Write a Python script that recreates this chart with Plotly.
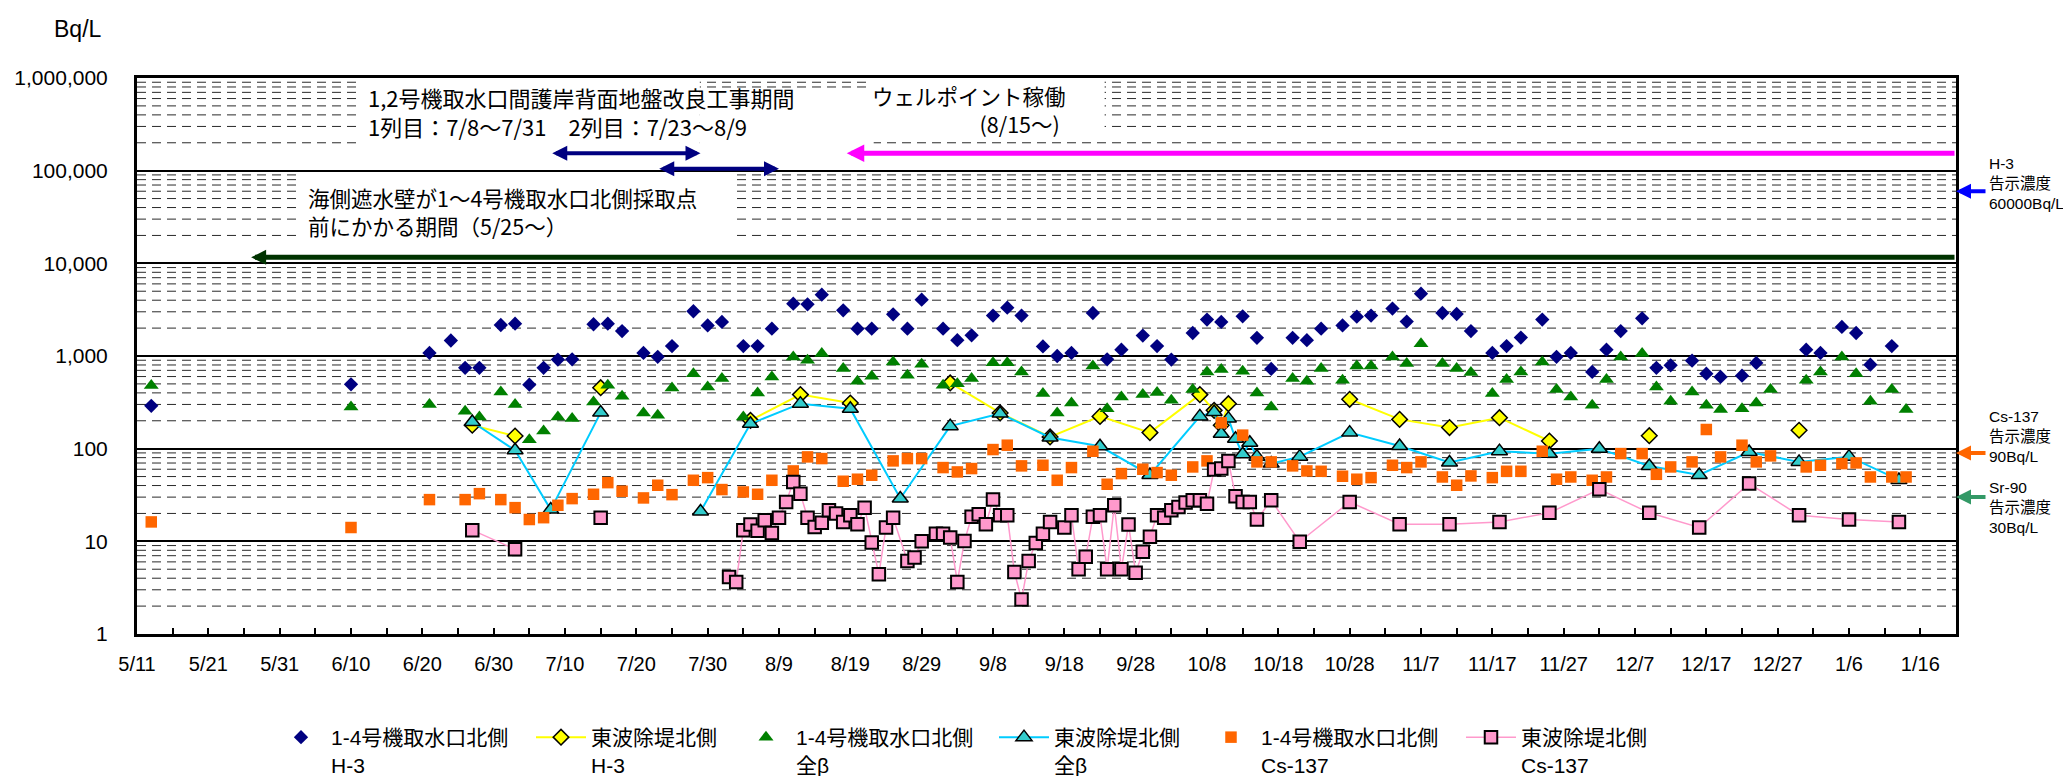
import numpy as np
import plotly.graph_objects as go


def iso(md):
    m, d = (int(s) for s in md.split("/"))
    year = 2014 if m < 5 else 2013
    return f"{year}-{m:02d}-{d:02d}"


# ---------------- data ----------------
# 1-4号機取水口北側 H-3
north_h3_dates = ["5/13", "6/10", "6/21", "6/24", "6/26", "6/28",
                  "7/1", "7/3", "7/5", "7/7", "7/9", "7/11", "7/14", "7/16", "7/18", "7/21", "7/23", "7/25", "7/28", "7/30",
                  "8/1", "8/4", "8/6", "8/8", "8/11", "8/13", "8/15", "8/18", "8/20", "8/22", "8/25", "8/27", "8/29",
                  "9/1", "9/3", "9/5", "9/8", "9/10", "9/12", "9/15", "9/17", "9/19", "9/22", "9/24", "9/26", "9/29",
                  "10/1", "10/3", "10/6", "10/8", "10/10", "10/13", "10/15", "10/17", "10/20", "10/22", "10/24", "10/27", "10/29", "10/31",
                  "11/3", "11/5", "11/7", "11/10", "11/12", "11/14", "11/17", "11/19", "11/21", "11/24", "11/26", "11/28",
                  "12/1", "12/3", "12/5", "12/8", "12/10", "12/12", "12/15", "12/17", "12/19", "12/22", "12/24", "12/31",
                  "1/2", "1/5", "1/7", "1/9", "1/12"]
north_h3_vals = [290, 495, 1080, 1470, 745, 745,
                 2160, 2230, 490, 745, 915, 920, 2200, 2230, 1860, 1080, 980, 1280, 3040, 2140,
                 2330, 1280, 1280, 1970, 3670, 3610, 4590, 3110, 1970, 1970, 2820, 1970, 4050,
                 1970, 1480, 1670, 2730, 3320, 2730, 1270, 1000, 1080, 2910, 920, 1170, 1660,
                 1280, 915, 1770, 2470, 2330, 2680, 1570, 725, 1570, 1480, 1970, 2140, 2660, 2730,
                 3250, 2350, 4710, 2910, 2840, 1860, 1080, 1280, 1580, 2470, 980, 1080,
                 673, 1170, 1860, 2550, 745, 794, 890, 645, 594, 614, 841, 1170,
                 1080, 2060, 1770, 807, 1280]

# 1-4号機取水口北側 全β / Cs-137 (same sampling dates)
north_dates = ["5/13", "6/10", "6/21", "6/26", "6/28",
               "7/1", "7/3", "7/5", "7/7", "7/9", "7/11", "7/14", "7/16", "7/18", "7/21", "7/23", "7/25", "7/28", "7/30",
               "8/1", "8/4", "8/6", "8/8", "8/11", "8/13", "8/15", "8/18", "8/20", "8/22", "8/25", "8/27", "8/29",
               "9/1", "9/3", "9/5", "9/8", "9/10", "9/12", "9/15", "9/17", "9/19", "9/22", "9/24", "9/26", "9/29",
               "10/1", "10/3", "10/6", "10/8", "10/10", "10/13", "10/15", "10/17", "10/20", "10/22", "10/24", "10/27", "10/29", "10/31",
               "11/3", "11/5", "11/7", "11/10", "11/12", "11/14", "11/17", "11/19", "11/21", "11/24", "11/26", "11/28",
               "12/1", "12/3", "12/5", "12/8", "12/10", "12/12", "12/15", "12/17", "12/19", "12/22", "12/24", "12/26", "12/31",
               "1/2", "1/5", "1/7", "1/9", "1/12", "1/14"]
north_beta_vals = [480, 282, 299, 253, 220,
                   410, 299, 125, 155, 220, 211, 319, 483, 367, 243, 229, 452, 645, 463,
                   570, 220, 399, 594, 977, 899, 1062, 731, 534, 604, 863, 619, 814,
                   483, 503, 570, 848, 848, 673, 393, 243, 311, 781, 270, 361, 383,
                   403, 333, 434, 673, 713, 684, 399, 282, 570, 534, 731, 547, 781, 781,
                   977, 828, 1360, 828, 731, 662, 393, 556, 673, 863, 434, 361,
                   294, 556, 977, 1062, 463, 324, 410, 294, 264, 270, 311, 434, 547,
                   673, 977, 645, 324, 434, 264]
north_cs_vals = [16.2, 14.1, 28.2, 28.2, 32.7,
                 28.2, 23.1, 17.2, 18.0, 24.5, 28.9, 32.2, 43, 34.7, 29.4, 40.3, 31.9, 45.6, 48.7,
                 36.2, 34.1, 32.2, 45.6, 57.5, 81.5, 78.2, 44.5, 46.8, 51.7, 73.8, 78.2, 78.2,
                 62.5, 56.1, 61.0, 97.8, 109, 65.2, 66.2, 45.6, 62.5, 93.8, 41.3, 53.8, 60,
                 55.2, 51.7, 63.5, 73.8, 190, 140, 72, 72, 65.2, 57.5, 57, 50.4, 46.8, 48.7,
                 66.2, 62.5, 72, 49.5, 40.3, 50.8, 48.7, 57, 57, 93.8, 46.8, 49.5,
                 45.6, 49.5, 88.5, 88.5, 52.9, 63.5, 72, 161, 81.5, 109, 72, 83.6, 63.5,
                 66.2, 69, 70.2, 49.5, 49.5, 49.5]

# 東波除堤北側 H-3 (None = no sample, line break)
east_h3_dates = ["6/27", "7/3", "7/8", "7/15", "7/25", "8/5", "8/12", "8/19", "8/26", "9/2", "9/9", "9/16", "9/23",
                 "9/30", "10/7", "10/9", "10/10", "10/11", "10/21", "10/28", "11/4", "11/11", "11/18", "11/25",
                 "12/2", "12/9", "12/16", "12/30"]
east_h3_vals = [179, 137, None, 455, None, 202, 383, 311, None, 512, 243, 134, 223,
                149, 383, 259, 179, 306, None, 341, 207, 169, 216, 121,
                None, 138, None, 158]

# 東波除堤北側 全β
east_beta_dates = ["6/27", "7/3", "7/8", "7/15", "7/22", "7/29", "8/5", "8/12", "8/19", "8/26", "9/2", "9/9", "9/16",
                   "9/23", "9/30", "10/7", "10/9", "10/10", "10/11", "10/12", "10/13", "10/14", "10/15", "10/17",
                   "10/21", "10/28", "11/4", "11/11", "11/18", "11/25", "12/2", "12/9", "12/16", "12/23", "12/30",
                   "1/6", "1/13"]
east_beta_vals = [194, 96, 22, 245, None, 21, 186, 306, 270, 29, 175, 239, 132,
                  106, 52, 223, 249, 145, 211, 128, 87, 116, 82, 69,
                  82, 149, 107, 71, 94, 88, 100, 65, 52, 92, 72,
                  82, 46]

# 東波除堤北側 Cs-137
east_cs_dates = ["6/27", "7/3", "7/8", "7/15", "7/25",
                 "8/2", "8/3", "8/4", "8/5", "8/6", "8/7", "8/8", "8/9", "8/10", "8/11", "8/12", "8/13", "8/14",
                 "8/15", "8/16", "8/17", "8/18", "8/19", "8/20", "8/21", "8/22", "8/23", "8/24", "8/25",
                 "8/27", "8/28", "8/29", "8/31",
                 "9/1", "9/2", "9/3", "9/4", "9/5", "9/6", "9/7", "9/8", "9/9", "9/10", "9/11", "9/12", "9/13",
                 "9/14", "9/15", "9/16", "9/18", "9/19", "9/20", "9/21", "9/22", "9/23", "9/24", "9/25", "9/26",
                 "9/27", "9/28", "9/29", "9/30",
                 "10/1", "10/2", "10/3", "10/4", "10/5", "10/6", "10/7", "10/8", "10/9", "10/10", "10/11",
                 "10/12", "10/13", "10/14", "10/15", "10/17", "10/21", "10/28",
                 "11/4", "11/11", "11/18", "11/25", "12/2", "12/9", "12/16", "12/23", "12/30", "1/6", "1/13"]
east_cs_vals = [13.2, 8.2, None, 18, None,
                4.13, 3.65, 13.2, 15.2, 13, 16.9, 12.3, 18, 26.6, 43.8, 32.7, 18, 14.3,
                15.9, 21.7, 20, 16.2, 19.1, 15.3, 23.1, 9.7, 4.4, 14.1, 18,
                6.15, 6.7, 10, 12.1,
                12.1, 11, 3.65, 10.1, 18.4, 19.6, 15.3, 28.2, 19.1, 19.1, 4.68, 2.35, 6.15,
                9.6, 12.1, 16.2, 14.1, 19.1, 5.0, 6.8, 18.4, 19.1, 5.0, 24.5, 5.0,
                15.2, 4.57, 7.7, 11.2,
                19.1, 18, 21.7, 23.5, 26.2, 27.7, 27.7, 25.5, 59.5, 61, 73.8,
                30.6, 26.6, 26.6, 17.2, 27.7, 9.9, 26.6,
                15.3, 15.3, 16.2, 20.3, 36.5, 20.3, 14.1, 42, 19.1, 17.2, 16.2]

series_names = ["1-4号機取水口北側<br>H-3", "東波除堤北側<br>H-3", "1-4号機取水口北側<br>全β",
                "東波除堤北側<br>全β", "1-4号機取水口北側<br>Cs-137", "東波除堤北側<br>Cs-137"]

y_tick_vals = [1, 10, 100, 1000, 10000, 100000, 1000000]

# notification limits (告示濃度)
limit_h3, limit_cs137, limit_sr90 = 60000, 90, 30

# ---------------- figure ----------------
CJK = "Noto Sans CJK JP"
LAT = "Liberation Sans, Arial, sans-serif"
MIX = "Liberation Sans, Noto Sans CJK JP, sans-serif"
X0, X1 = "2013-05-11", "2014-01-21"
DAY_MS = 86400000
LEGENDS = ["legend", "legend2", "legend3", "legend4", "legend5", "legend6"]

# page body has an 8px default margin: figure is sized/offset so the plot area
# lands on screen pixels x 137..1956, y 78..634
PAGE_OFF = 8
PLOT_L, PLOT_T, PLOT_W, PLOT_H = 137, 78, 1819, 556


def px_x(px):
    return (px - PLOT_L) / PLOT_W


def px_y(py):
    return (PLOT_T + PLOT_H - py) / PLOT_H


fig = go.Figure()
fig.add_trace(go.Scatter(x=[iso(d) for d in north_h3_dates], y=north_h3_vals, mode="markers",
                         name=series_names[0], legend=LEGENDS[0],
                         marker=dict(symbol="diamond", size=11, color="#000080", line=dict(width=0))))
fig.add_trace(go.Scatter(x=[iso(d) for d in east_h3_dates], y=east_h3_vals, mode="lines+markers",
                         name=series_names[1], legend=LEGENDS[1], line=dict(color="#FFFF00", width=2),
                         marker=dict(symbol="diamond", size=12, color="#FFFF00",
                                     line=dict(color="black", width=1.5))))
fig.add_trace(go.Scatter(x=[iso(d) for d in north_dates], y=north_beta_vals, mode="markers",
                         name=series_names[2], legend=LEGENDS[2],
                         marker=dict(symbol="triangle-up", size=13, color="#008000", line=dict(width=0))))
fig.add_trace(go.Scatter(x=[iso(d) for d in east_beta_dates], y=east_beta_vals, mode="lines+markers",
                         name=series_names[3], legend=LEGENDS[3], line=dict(color="#00CCFF", width=2),
                         marker=dict(symbol="triangle-up", size=14, color="#33CCCC",
                                     line=dict(color="black", width=1.5))))
fig.add_trace(go.Scatter(x=[iso(d) for d in north_dates], y=north_cs_vals, mode="markers",
                         name=series_names[4], legend=LEGENDS[4],
                         marker=dict(symbol="square", size=11.5, color="#FF6600", line=dict(width=0))))
fig.add_trace(go.Scatter(x=[iso(d) for d in east_cs_dates], y=east_cs_vals, mode="lines+markers",
                         name=series_names[5], legend=LEGENDS[5], line=dict(color="#FF99CC", width=1.5),
                         marker=dict(symbol="square", size=12.5, color="#FF99CC",
                                     line=dict(color="black", width=2))))

# minor dashed grid lines
for dec in range(6):
    for k in range(2, 10):
        v = k * 10 ** dec
        fig.add_shape(type="line", xref="paper", x0=0, x1=1, yref="y", y0=v, y1=v,
                      line=dict(color="#2a2a2a", width=1, dash="9px,6px"), layer="below")

# white boxes behind the notes
for bx0, bx1, by0, by1 in [("2013-06-11 12:45", "2013-07-28 21:30", 960000, 165000),
                           ("2013-07-28 21:30", "2013-08-22 06:40", 750000, 165000),
                           ("2013-08-21 07:00", "2013-09-23 15:30", 960000, 250000),
                           ("2013-06-02 20:10", "2013-08-02 22:30", 95000, 15000)]:
    fig.add_shape(type="rect", xref="x", yref="y", x0=bx0, x1=bx1, y0=by0, y1=by1,
                  fillcolor="white", line=dict(width=0), layer="below")

ann = []


def ptext(text, px, py, size=21, family=CJK, xanchor="left", align="left"):
    ann.append(dict(text=text, xref="paper", yref="paper", x=px_x(px), y=px_y(py),
                    xanchor=xanchor, yanchor="middle", showarrow=False, align=align,
                    font=dict(family=family, size=size, color="black")))


ptext("Bq/L", 52, 29, size=23, family=LAT)
ptext("1,2号機取水口間護岸背面地盤改良工事期間<br>1列目：7/8～7/31　2列目：7/23～8/9", 366, 112, size=22)
ptext("ウェルポイント稼働<br>　　　　　(8/15～)", 870, 109.5, size=21.5)
ptext("海側遮水壁が1～4号機取水口北側採取点<br>前にかかる期間（5/25～）", 306, 211.5, size=21.5)


def period_arrow(tip, tail, value, color, width, size, both=False):
    d = dict(text="", xref="x", yref="y", axref="x", ayref="y",
             x=tip, y=np.log10(value), ax=tail, ay=np.log10(value),
             showarrow=True, arrowhead=2, arrowsize=size, arrowwidth=width, arrowcolor=color)
    if both:
        d.update(arrowside="end+start", startarrowhead=2, startarrowsize=size)
    ann.append(d)


period_arrow("2013-07-29", "2013-07-08", 154000, "#000080", 4, 0.75, both=True)
period_arrow("2013-08-09", "2013-07-23", 105000, "#000080", 4, 0.75, both=True)
period_arrow("2013-08-18 12:00", X1, 154000, "#FF00FF", 5, 0.7)
period_arrow("2013-05-27", X1, 11600, "#003300", 5, 0.6)

# limit markers on the right
for label, value, color, py in [("H-3<br>告示濃度<br>60000Bq/L", limit_h3, "#0000FF", 183),
                                ("Cs-137<br>告示濃度<br>90Bq/L", limit_cs137, "#FF6600", 436),
                                ("Sr-90<br>告示濃度<br>30Bq/L", limit_sr90, "#339966", 507)]:
    ann.append(dict(text="", xref="paper", yref="y", x=1.0, y=np.log10(value), ax=31, ay=0,
                    showarrow=True, arrowhead=2, arrowsize=0.75, arrowwidth=4, arrowcolor=color))
    ann.append(dict(text=label, xref="paper", yref="paper", x=px_x(1987), y=px_y(py),
                    xanchor="left", yanchor="middle", showarrow=False, align="left",
                    font=dict(family=MIX, size=15.5, color="black")))

legend_layout = {}
for key, marker_px in zip(LEGENDS, [302, 562, 767, 1025, 1232, 1492]):
    legend_layout[key] = dict(orientation="h", x=px_x(marker_px - 31), xanchor="left",
                              y=px_y(717), yanchor="top",
                              font=dict(family=MIX, size=21, color="black"), itemwidth=50, valign="top",
                              bgcolor="rgba(0,0,0,0)")

W_PAGE, H_PAGE = 2071, 776
fig.update_layout(
    width=W_PAGE - PAGE_OFF, height=H_PAGE - PAGE_OFF,
    margin=dict(l=PLOT_L - PAGE_OFF, r=W_PAGE - (PLOT_L + PLOT_W),
                t=PLOT_T - PAGE_OFF, b=H_PAGE - (PLOT_T + PLOT_H), autoexpand=False),
    paper_bgcolor="white", plot_bgcolor="white",
    font=dict(family=MIX, color="black"),
    annotations=ann,
    showlegend=True,
    **legend_layout,
)
fig.update_xaxes(type="date", range=[X0, X1], tick0=X0, dtick=10 * DAY_MS, tickformat="%-m/%-d",
                 ticks="inside", ticklen=6, tickwidth=1.5, tickcolor="black",
                 minor=dict(tick0=X0, dtick=5 * DAY_MS, ticks="inside", ticklen=6, tickwidth=1.5,
                            tickcolor="black", showgrid=False),
                 showgrid=False, zeroline=False, showline=True, linewidth=3, linecolor="black", mirror=True,
                 tickfont=dict(family=LAT, size=20, color="black"), ticklabelstandoff=10)
fig.update_yaxes(type="log", range=[0, 6], tickvals=y_tick_vals, tickformat=",d", ticks="",
                 showgrid=True, gridcolor="black", gridwidth=2, zeroline=False,
                 showline=True, linewidth=3, linecolor="black", mirror=True,
                 tickfont=dict(family=LAT, size=21, color="black"), ticklabelstandoff=22)

fig.write_html("out.html")
